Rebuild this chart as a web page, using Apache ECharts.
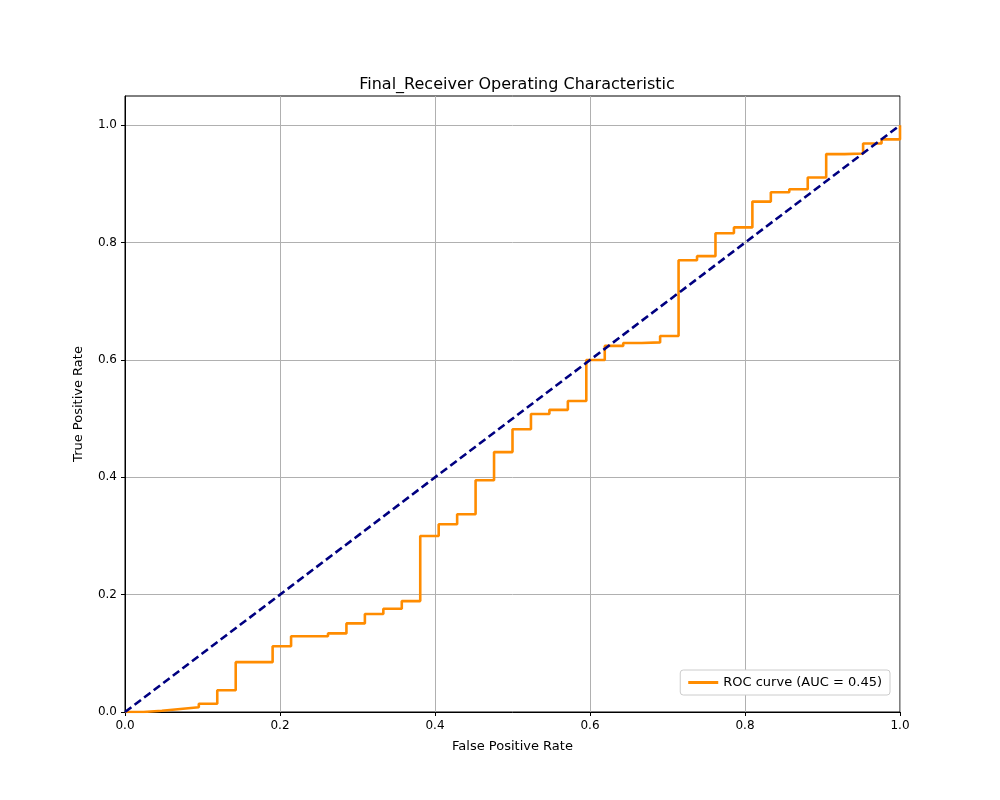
<!DOCTYPE html>
<html><head><meta charset="utf-8">
<script src="https://cdn.jsdelivr.net/npm/echarts@6/dist/echarts.min.js"></script>
<style>html,body{margin:0;padding:0;background:#fff}#c{width:1000px;height:800px}</style>
</head><body><div id="c"></div>
<script>
const nSteps = 42;
const tpr = [0,0.002,0.005,0.008,0.014,0.037,0.085,0.085,0.112,0.129,0.129,0.134,0.151,0.167,0.176,0.189,0.300,0.320,0.337,0.395,0.443,0.482,0.508,0.515,0.530,0.600,0.624,0.629,0.630,0.641,0.770,0.777,0.816,0.826,0.870,0.886,0.891,0.911,0.951,0.952,0.969,0.976,1.0];
const ticks = [0, 0.2, 0.4, 0.6, 0.8, 1.0];
const fpr = tpr.map((_, i) => i / nSteps);
const diag = [[0,0],[1,1]];
const roc = fpr.map((x, i) => [x, tpr[i]]);
const font = 'DejaVu Sans';
const chart = echarts.init(document.getElementById('c'));
const fmt = v => v.toFixed(1);
chart.setOption({
  animation: false,
  title: {text: 'Final_Receiver Operating Characteristic', left: 512, top: 72, textAlign: 'center',
    textStyle: {fontFamily: font, fontSize: 16, fontWeight: 'normal', color: '#000'}},
  grid: {left: 125, right: 100, top: 96, bottom: 88, show: true, borderColor: '#000', borderWidth: 1},
  legend: {right: 110, bottom: 105, orient: 'vertical', backgroundColor: '#fff', borderColor: '#ccc', borderWidth: 1,
    borderRadius: 3, padding: [6, 8], itemWidth: 30, itemHeight: 3,
    textStyle: {fontFamily: font, fontSize: 13, color: '#000'},
    data: [{name: 'ROC curve (AUC = 0.45)', icon: 'rect'}]},
  xAxis: {type: 'value', min: 0, max: 1, interval: 0.2, name: 'False Positive Rate', nameLocation: 'middle', nameGap: 28,
    nameTextStyle: {fontFamily: font, fontSize: 13, color: '#000'},
    axisLine: {lineStyle: {color: '#000'}}, axisTick: {show: true, length: 4, lineStyle: {color: '#000'}},
    axisLabel: {fontFamily: font, fontSize: 12, color: '#000', formatter: fmt},
    splitLine: {show: true, lineStyle: {color: '#b0b0b0', width: 1}}},
  yAxis: {type: 'value', min: 0, max: 1.05, interval: 0.2, name: 'True Positive Rate', nameLocation: 'middle', nameGap: 40,
    nameTextStyle: {fontFamily: font, fontSize: 13, color: '#000'},
    axisLine: {show: true, lineStyle: {color: '#000'}},
    axisTick: {show: true, length: 4, customValues: ticks, lineStyle: {color: '#000'}},
    axisLabel: {fontFamily: font, fontSize: 12, color: '#000', customValues: ticks, formatter: fmt},
    splitLine: {show: true, lineStyle: {color: '#b0b0b0', width: 1}}},
  series: [
    {name: 'ROC curve (AUC = 0.45)', type: 'line', step: 'end', data: roc, showSymbol: false, symbol: 'none',
      color: '#ff8c00', lineStyle: {color: '#ff8c00', width: 2.6}, z: 3},
    {name: 'diag', type: 'line', data: diag, showSymbol: false, symbol: 'none',
      lineStyle: {color: '#000080', width: 2.6, type: [8, 4]}, z: 4}
  ]
});
</script></body></html>
